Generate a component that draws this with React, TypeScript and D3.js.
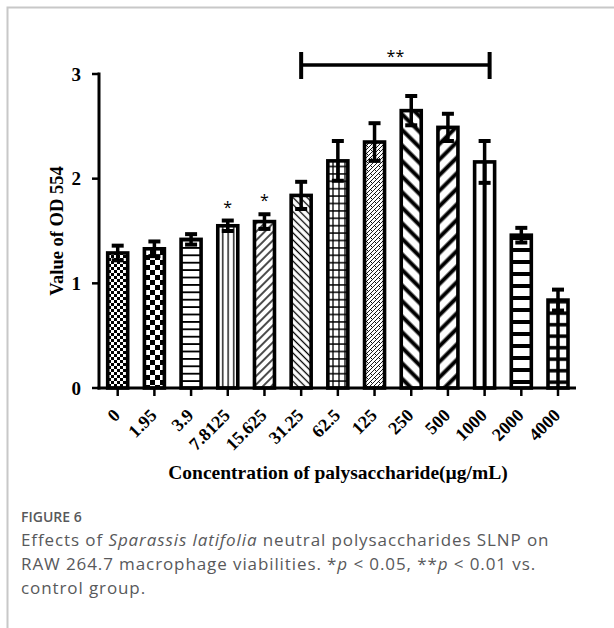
import React from 'react';
import * as d3 from 'd3';

// concentrations (µg/mL) and OD554 readings, mean ± error
const categories = ['0', '1.95', '3.9', '7.8125', '15.625', '31.25', '62.5', '125', '250', '500', '1000', '2000', '4000'];
const means = [1.29, 1.33, 1.42, 1.55, 1.59, 1.84, 2.17, 2.35, 2.65, 2.49, 2.16, 1.46, 0.84];
const errors = [0.07, 0.07, 0.05, 0.05, 0.07, 0.13, 0.19, 0.18, 0.14, 0.13, 0.2, 0.07, 0.1];
const yTicks = [0, 1, 2, 3];
const singleStar = ['7.8125', '15.625'];
const bracketFrom = '31.25';
const bracketTo = '1000';

const W = 614;
const H = 628;
const axisX = 99;
const axisY = 388;
const barW = 20;
const serif = '"Liberation Serif", "Times New Roman", serif';
const sans = '"Open Sans", "Noto Sans", sans-serif';

const fills = [
  'checkFine', 'checkCoarse', 'hThin', 'vThin', 'diagUp', 'diagDown', 'gridThin',
  'zigzag', 'thickDown', 'thickUp', 'center1000', 'thickH', 'grid4000',
];

const App = () => {
  const x = d3.scalePoint<string>().domain(categories).range([117.7, 558]);
  const y = d3.scaleLinear().domain([0, 3]).range([axisY, 74]);

  const bx = (c: string) => x(c) as number;
  const x1000 = bx('1000') - barW / 2;
  const x4000 = bx('4000') - barW / 2;

  return (
    <svg width={W} height={H} style={{ position: 'absolute', left: 0, top: 0, background: '#fff' }}>
      <defs>
        <pattern id="checkFine" patternUnits="userSpaceOnUse" width={6} height={6}>
          <rect width={6} height={6} fill="#fff" />
          <rect width={3} height={3} fill="#000" />
          <rect x={3} y={3} width={3} height={3} fill="#000" />
        </pattern>
        <pattern id="checkCoarse" patternUnits="userSpaceOnUse" width={10} height={10}>
          <rect width={10} height={10} fill="#fff" />
          <rect width={5} height={5} fill="#000" />
          <rect x={5} y={5} width={5} height={5} fill="#000" />
        </pattern>
        <pattern id="hThin" patternUnits="userSpaceOnUse" width={8} height={7.4}>
          <rect width={8} height={7.4} fill="#fff" />
          <line x1={0} x2={8} y1={3.7} y2={3.7} stroke="#000" strokeWidth={1.8} />
        </pattern>
        <pattern id="vThin" patternUnits="userSpaceOnUse" width={5.5} height={8}>
          <rect width={5.5} height={8} fill="#fff" />
          <line x1={2.7} x2={2.7} y1={0} y2={8} stroke="#000" strokeWidth={1.3} />
        </pattern>
        <pattern id="diagUp" patternUnits="userSpaceOnUse" width={6} height={6} patternTransform="rotate(45)">
          <rect width={6} height={6} fill="#fff" />
          <line x1={3} x2={3} y1={0} y2={6} stroke="#000" strokeWidth={1.4} />
        </pattern>
        <pattern id="diagDown" patternUnits="userSpaceOnUse" width={5} height={5} patternTransform="rotate(-45)">
          <rect width={5} height={5} fill="#fff" />
          <line x1={2.5} x2={2.5} y1={0} y2={5} stroke="#000" strokeWidth={1.3} />
        </pattern>
        <pattern id="gridThin" patternUnits="userSpaceOnUse" width={6} height={7.4}>
          <rect width={6} height={7.4} fill="#fff" />
          <line x1={0} x2={6} y1={3.7} y2={3.7} stroke="#000" strokeWidth={1.5} />
          <line x1={3} x2={3} y1={0} y2={7.4} stroke="#000" strokeWidth={1.3} />
        </pattern>
        <pattern id="zigzag" patternUnits="userSpaceOnUse" width={8} height={8}>
          <rect width={8} height={8} fill="#fff" />
          <path d="M0,8 L8,0 M0,4 L4,0 M4,8 L8,4" stroke="#000" strokeWidth={0.9} />
          <path d="M2,5 L4,7 M6,1 L8,3" stroke="#000" strokeWidth={0.9} />
        </pattern>
        <pattern id="thickDown" patternUnits="userSpaceOnUse" width={11} height={11} patternTransform="rotate(-45)">
          <rect width={11} height={11} fill="#fff" />
          <line x1={5.5} x2={5.5} y1={0} y2={11} stroke="#000" strokeWidth={4} />
        </pattern>
        <pattern id="thickUp" patternUnits="userSpaceOnUse" width={11} height={11} patternTransform="rotate(45)">
          <rect width={11} height={11} fill="#fff" />
          <line x1={5.5} x2={5.5} y1={0} y2={11} stroke="#000" strokeWidth={4} />
        </pattern>
        <pattern id="center1000" patternUnits="userSpaceOnUse" x={x1000} width={barW} height={10}>
          <rect width={barW} height={10} fill="#fff" />
          <line x1={barW / 2} x2={barW / 2} y1={0} y2={10} stroke="#000" strokeWidth={4} />
        </pattern>
        <pattern id="thickH" patternUnits="userSpaceOnUse" width={10} height={12} y={axisY}>
          <rect width={10} height={12} fill="#fff" />
          <line x1={0} x2={10} y1={6} y2={6} stroke="#000" strokeWidth={4} />
        </pattern>
        <pattern id="grid4000" patternUnits="userSpaceOnUse" x={x4000} y={axisY} width={barW} height={11.5}>
          <rect width={barW} height={11.5} fill="#fff" />
          <line x1={0} x2={barW} y1={5.7} y2={5.7} stroke="#000" strokeWidth={3.5} />
          <line x1={barW / 2} x2={barW / 2} y1={0} y2={11.5} stroke="#000" strokeWidth={3.5} />
        </pattern>
      </defs>

      {/* card frame */}
      <path d={`M7.5,${H} L7.5,7.5 L${W},7.5`} fill="none" stroke="#c8c8c8" strokeWidth={2} />

      {/* bars */}
      {categories.map((c, i) => (
        <rect
          key={c}
          x={bx(c) - barW / 2}
          y={y(means[i])}
          width={barW}
          height={axisY - y(means[i])}
          fill={`url(#${fills[i]})`}
          stroke="#000"
          strokeWidth={3.6}
        />
      ))}

      {/* error bars */}
      {categories.map((c, i) => {
        const cx = bx(c);
        const hi = y(means[i] + errors[i]);
        const lo = y(means[i] - errors[i]);
        return (
          <g key={c} stroke="#000">
            <line x1={cx} x2={cx} y1={hi} y2={lo} strokeWidth={3.5} />
            <line x1={cx - 6} x2={cx + 6} y1={hi} y2={hi} strokeWidth={4} />
            <line x1={cx - 6} x2={cx + 6} y1={lo} y2={lo} strokeWidth={4} />
          </g>
        );
      })}

      {/* axes */}
      <line x1={axisX} x2={axisX} y1={y(3) - 1.5} y2={axisY + 1.5} stroke="#000" strokeWidth={3} />
      <line x1={axisX - 1.5} x2={576} y1={axisY} y2={axisY} stroke="#000" strokeWidth={3} />
      {yTicks.map((t) => (
        <g key={t}>
          <line x1={axisX - 7} x2={axisX} y1={y(t)} y2={y(t)} stroke="#000" strokeWidth={2.5} />
          <text
            x={axisX - 18}
            y={y(t)}
            dy="0.35em"
            textAnchor="end"
            fontFamily={serif}
            fontWeight="bold"
            fontSize={19}
          >
            {t}
          </text>
        </g>
      ))}
      {categories.map((c) => (
        <g key={c}>
          <line x1={bx(c)} x2={bx(c)} y1={axisY} y2={axisY + 8} stroke="#000" strokeWidth={2.5} />
          <text
            transform={`translate(${bx(c) - 1},${axisY + 24}) rotate(-45)`}
            dy="0.35em"
            textAnchor="end"
            fontFamily={serif}
            fontWeight="bold"
            fontSize={18}
          >
            {c}
          </text>
        </g>
      ))}

      <text
        transform={`translate(57,${(y(0) + y(3)) / 2}) rotate(-90)`}
        dy="0.35em"
        textAnchor="middle"
        fontFamily={serif}
        fontWeight="bold"
        fontSize={18.5}
      >
        Value of OD 554
      </text>
      <text x={338} y={479} textAnchor="middle" fontFamily={serif} fontWeight="bold" fontSize={19.5}>
        Concentration of palysaccharide(µg/mL)
      </text>

      {/* significance marks */}
      {singleStar.map((c) => {
        const i = categories.indexOf(c);
        return (
          <text key={c} x={bx(c)} y={y(means[i] + errors[i]) - 8} textAnchor="middle" fontFamily={sans} fontSize={16}>
            *
          </text>
        );
      })}
      <g stroke="#000">
        <line x1={bx(bracketFrom)} x2={bx(bracketTo) + 5} y1={65} y2={65} strokeWidth={3.5} />
        <line x1={bx(bracketFrom)} x2={bx(bracketFrom)} y1={52} y2={79} strokeWidth={4} />
        <line x1={bx(bracketTo) + 5} x2={bx(bracketTo) + 5} y1={52} y2={79} strokeWidth={4} />
      </g>
      <text x={(bx(bracketFrom) + bx(bracketTo) + 5) / 2} y={62} textAnchor="middle" fontFamily={sans} fontSize={16}>
        **
      </text>

      {/* caption */}
      <text x={21} y={522} fontFamily={sans} fontSize={14} fontWeight={600} fill="#58595b">
        FIGURE 6
      </text>
      <g fontFamily={sans} fontSize={17} letterSpacing={0.9} fill="#58595b">
        <text x={21} y={546}>
          Effects of <tspan fontStyle="italic">Sparassis latifolia</tspan> neutral polysaccharides SLNP on
        </text>
        <text x={21} y={570}>
          RAW 264.7 macrophage viabilities. *<tspan fontStyle="italic">p</tspan> {'<'} 0.05, **
          <tspan fontStyle="italic">p</tspan> {'<'} 0.01 vs.
        </text>
        <text x={21} y={594}>
          control group.
        </text>
      </g>
    </svg>
  );
};

export default App;
